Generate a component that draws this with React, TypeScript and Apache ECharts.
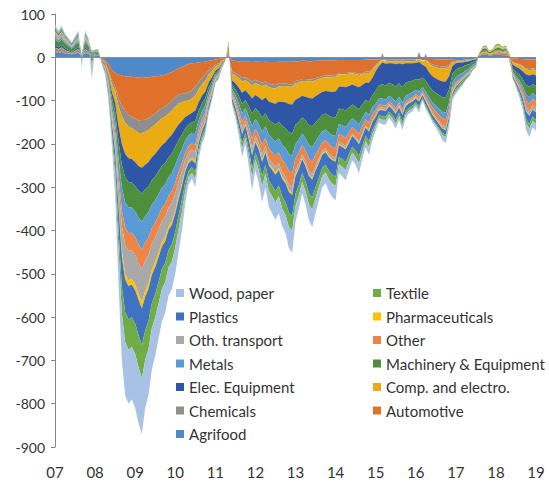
import React, { useEffect, useRef } from "react";
import * as echarts from "echarts";

// Monthly values, Jan 2007 .. Jan 2019 (145 points), one row per year
const agrifood = [
  12,10,12,9,8,7,9,10,3,10,8,5,
  5,4,-2,-6,-15,-28,-37,-40,-42,-44,-45,-45,
  -46,-46,-45,-46,-46,-45,-44,-43,-42,-40,-37,-34,
  -30,-26,-22,-19,-15,-14,-13,-12,-11,-10,-8,-7,
  -5,-4,-2,-1,3,-8,-8,-9,-10,-10,-10,-11,
  -10,-10,-11,-10,-11,-11,-11,-10,-10,-10,-10,-10,
  -9,-9,-8,-8,-9,-9,-8,-8,-7,-7,-7,-7,
  -7,-6,-6,-6,-6,-6,-6,-6,-6,-5,-5,-5,
  -5,-5,-5,-5,-5,-5,-5,-5,-5,-5,-5,-5,
  -4,-4,-4,-4,-4,-4,-5,-5,-5,-5,-5,-5,
  -6,-6,-6,-5,-5,-4,-3,3,6,7,4,5,
  6,6,5,5,3,-3,-3,-4,-4,-5,-5,-5,
  -5];
const automotive = [
  3,2,3,2,1,1,1,2,0,2,1,0,
  0,0,-3,-5,-15,-25,-30,-55,-70,-80,-88,-92,
  -96,-100,-100,-98,-95,-90,-86,-80,-75,-73,-70,-66,
  -62,-60,-62,-64,-65,-62,-55,-45,-36,-30,-22,-17,
  -12,-10,-5,-2,2,-25,-28,-32,-38,-36,-40,-45,
  -42,-45,-48,-46,-50,-52,-53,-50,-50,-50,-52,-52,
  -46,-44,-42,-42,-42,-42,-40,-38,-36,-35,-35,-35,
  -34,-30,-30,-30,-29,-28,-30,-32,-30,-28,-28,-22,
  -12,-5,-1,-2,-1,-1,-2,-1,-2,-1,-1,-1,
  -1,-1,-2,-3,-8,-12,-14,-15,-16,-16,-12,-4,
  -2,-1,-1,-1,0,0,0,1,3,3,2,2,
  3,4,3,4,1,-8,-10,-12,-15,-20,-22,-20,
  -22];
const chemicals = [
  7,6,7,5,4,3,4,6,1,6,4,2,
  2,2,-1,-1,-4,-8,-10,-17,-24,-27,-27,-27,
  -27,-29,-30,-28,-27,-26,-25,-25,-24,-24,-23,-23,
  -22,-21,-20,-18,-20,-19,-20,-17,-15,-14,-10,-8,
  -5,-4,-2,-1,8,-5,-6,-7,-8,-7,-8,-9,
  -8,-8,-8,-7,-8,-8,-8,-7,-6,-6,-6,-6,
  -5,-5,-5,-5,-5,-5,-5,-4,-4,-4,-4,-4,
  -4,-3,-3,-3,-3,-3,-3,-3,-3,-3,-3,-3,
  -3,-3,10,-3,-3,-3,-3,-3,-3,-3,-3,-3,
  -3,12,-3,8,-3,-4,-4,-5,-5,-5,-4,-3,
  -2,-2,-2,-2,-2,-1,-1,1,1,1,1,1,
  2,2,2,2,1,-1,-2,-2,-3,-3,-3,-3,
  -3];
const compElectro = [
  1,1,1,1,1,0,1,1,0,1,1,0,
  0,0,-1,-3,-8,-18,-28,-46,-64,-72,-73,-71,
  -73,-76,-80,-76,-74,-70,-68,-65,-62,-60,-57,-56,
  -53,-48,-43,-37,-33,-33,-35,-30,-27,-25,-18,-14,
  -9,-8,-4,-1,6,-15,-18,-22,-26,-23,-27,-30,
  -27,-29,-32,-30,-33,-34,-35,-35,-37,-38,-40,-41,
  -38,-36,-34,-36,-38,-39,-37,-35,-33,-32,-33,-34,
  -34,-29,-29,-30,-28,-26,-27,-28,-25,-22,-23,-18,
  -12,-7,-6,-5,-5,-5,-6,-5,-6,-5,-5,-5,
  -5,-6,-8,-15,-20,-24,-26,-28,-30,-30,-22,-8,
  -4,-3,-3,-2,-2,-1,-1,1,3,3,2,3,
  4,4,3,4,2,-5,-7,-8,-10,-12,-12,-11,
  -12];
const elecEquipment = [
  5,4,5,4,3,2,3,4,0,4,3,1,
  1,1,-1,-2,-5,-12,-21,-35,-48,-54,-55,-54,
  -55,-57,-60,-57,-56,-53,-52,-50,-48,-47,-44,-43,
  -40,-36,-32,-26,-22,-22,-24,-20,-17,-15,-11,-8,
  -5,-4,-2,-1,2,-10,-14,-19,-25,-22,-28,-35,
  -30,-34,-40,-36,-42,-45,-48,-47,-55,-60,-65,-67,
  -58,-55,-50,-55,-62,-65,-60,-57,-53,-52,-56,-58,
  -60,-50,-52,-54,-50,-46,-48,-51,-45,-40,-44,-40,
  -45,-45,-50,-50,-45,-48,-52,-46,-53,-45,-42,-40,
  -37,-40,-30,-32,-32,-32,-33,-34,-36,-37,-30,-18,
  -14,-12,-10,-8,-7,-5,-4,0,1,1,0,0,
  1,1,1,1,0,-8,-11,-14,-18,-24,-26,-23,
  -24];
const machinery = [
  14,12,13,11,9,7,10,12,1,12,9,3,
  4,4,-2,-3,-7,-15,-23,-38,-52,-58,-59,-58,
  -59,-62,-65,-62,-60,-56,-55,-53,-50,-49,-46,-45,
  -42,-38,-33,-28,-25,-25,-28,-22,-19,-17,-12,-9,
  -5,-4,-2,-1,5,-10,-13,-17,-22,-19,-24,-30,
  -25,-28,-33,-30,-35,-37,-40,-38,-44,-46,-50,-52,
  -44,-41,-37,-41,-46,-48,-44,-41,-38,-37,-40,-42,
  -43,-36,-37,-38,-35,-32,-33,-35,-31,-28,-30,-27,
  -30,-30,-33,-33,-30,-32,-35,-31,-36,-30,-28,-27,
  -25,-28,-22,-25,-26,-28,-30,-32,-34,-35,-30,-20,
  -18,-16,-14,-12,-10,-7,-5,2,5,6,3,4,
  5,5,4,4,1,-7,-10,-13,-16,-22,-24,-21,
  -22];
const metals = [
  6,5,6,4,4,3,4,5,0,5,4,1,
  2,2,-1,-3,-7,-15,-23,-38,-52,-58,-59,-58,
  -59,-62,-65,-60,-58,-54,-52,-50,-47,-46,-43,-42,
  -40,-36,-32,-28,-25,-24,-27,-20,-17,-16,-12,-9,
  -5,-4,-2,0,2,-8,-11,-15,-20,-17,-22,-28,
  -23,-26,-30,-27,-31,-32,-33,-32,-35,-36,-39,-40,
  -33,-30,-26,-29,-32,-34,-31,-28,-25,-24,-26,-27,
  -28,-23,-24,-25,-22,-20,-21,-22,-19,-17,-18,-16,
  -15,-14,-15,-14,-13,-14,-15,-13,-15,-13,-12,-11,
  -10,-12,-9,-11,-11,-12,-13,-14,-15,-16,-14,-12,
  -12,-11,-10,-8,-7,-5,-4,0,1,1,0,1,
  1,1,1,1,0,-4,-6,-8,-10,-14,-15,-13,
  -14];
const other = [
  3,2,3,2,2,1,2,2,0,2,2,0,
  0,1,-1,-2,-5,-10,-15,-26,-36,-40,-41,-40,
  -41,-43,-45,-42,-40,-36,-34,-32,-30,-29,-27,-27,
  -25,-22,-19,-16,-14,-14,-16,-12,-10,-9,-7,-5,
  -3,-3,-1,0,2,-6,-8,-11,-14,-12,-15,-20,
  -16,-18,-22,-19,-23,-24,-26,-25,-28,-29,-32,-33,
  -27,-25,-22,-24,-27,-28,-25,-23,-20,-19,-21,-22,
  -22,-18,-18,-19,-17,-15,-16,-18,-16,-14,-16,-14,
  -10,-7,-6,-6,-5,-6,-7,-6,-7,-5,-5,-5,
  -5,-6,-5,-7,-9,-11,-13,-14,-16,-17,-14,-8,
  -5,-4,-3,-3,-2,-1,-1,0,1,1,1,1,
  1,1,1,1,-8,-3,-5,-7,-10,-15,-17,-15,
  -15];
const othTransport = [
  7,6,7,5,4,3,4,6,0,6,4,2,
  2,2,-1,-3,-7,-16,-26,-43,-60,-67,-68,-67,
  -68,-71,-75,-70,-66,-60,-57,-53,-49,-47,-43,-42,
  -39,-34,-29,-23,-20,-19,-22,-16,-14,-13,-9,-7,
  -4,-3,-2,-1,4,-5,-7,-9,-11,-9,-12,-14,
  -11,-12,-13,-11,-12,-12,-12,-11,-11,-11,-12,-12,
  -10,-9,-8,-8,-9,-9,-8,-7,-6,-6,-6,-6,
  -6,-5,-5,-5,-5,-4,-4,-4,-4,-3,-3,-3,
  -4,-4,-4,-4,-4,-4,-4,-4,-4,-4,-3,-3,
  -3,-3,-2,-3,-3,-4,-4,-5,-5,-5,-4,-3,
  -3,-3,-2,-2,-2,-1,-1,0,1,1,0,0,
  1,1,1,1,0,-2,-3,-4,-5,-8,-9,-8,
  -8];
const pharmaceuticals = [
  3,2,2,2,1,1,1,2,0,2,1,0,
  0,0,0,-1,-2,-4,-5,-9,-12,-13,-13,-13,
  -14,-14,-15,-14,-13,-12,-12,-11,-10,-10,-9,-9,
  -8,-7,-6,-5,-5,-5,-5,-4,-4,-3,-2,-2,
  -1,-1,-1,0,2,-2,-3,-3,-4,-3,-4,-5,
  -4,-4,-5,-4,-5,-5,-5,-5,-5,-5,-5,-5,
  -4,-4,-3,-4,-4,-4,-4,-3,-3,-3,-3,-3,
  -3,-3,-3,-3,-3,-2,-2,-2,-2,-2,-2,-2,
  -2,-2,-2,-2,-2,-2,-2,-2,-2,-2,-2,-2,
  -2,-2,-2,-2,-2,-2,-2,-3,-3,-3,-2,-2,
  -2,-2,-1,-1,-1,-1,0,1,1,1,1,1,
  2,2,1,2,1,-1,-1,-1,-2,-2,-2,-2,
  -2];
const plastics = [
  4,3,4,3,2,2,3,3,0,3,2,1,
  1,1,-1,-4,-9,-18,-29,-49,-68,-76,-77,-76,
  -77,-81,-85,-78,-74,-66,-62,-57,-52,-50,-46,-45,
  -42,-37,-31,-24,-18,-17,-20,-14,-12,-11,-8,-6,
  -3,-2,-1,0,1,-8,-11,-15,-20,-17,-22,-30,
  -24,-27,-32,-28,-34,-36,-38,-36,-40,-43,-47,-49,
  -41,-37,-32,-35,-39,-41,-38,-34,-30,-29,-31,-33,
  -34,-27,-28,-29,-26,-24,-25,-27,-23,-20,-22,-18,
  -14,-12,-14,-13,-12,-13,-14,-12,-15,-12,-11,-10,
  -9,-11,-7,-9,-9,-9,-9,-9,-10,-10,-9,-6,
  -5,-4,-3,-2,-2,-1,-1,0,0,1,0,0,
  1,1,0,0,0,-4,-5,-8,-11,-17,-19,-16,
  -17];
const textile = [
  5,4,5,4,3,3,3,4,-10,4,3,-20,
  1,1,-1,-3,-7,-14,-27,-45,-62,-69,-70,-68,
  -70,-74,-77,-68,-64,-57,-54,-50,-46,-44,-40,-39,
  -37,-32,-27,-20,-14,-13,-16,-11,-9,-8,-6,-4,
  -2,-2,-1,0,2,-4,-6,-9,-13,-11,-15,-20,
  -16,-19,-24,-21,-24,-25,-26,-25,-28,-30,-33,-34,
  -28,-25,-21,-23,-26,-28,-25,-22,-19,-18,-20,-21,
  -22,-17,-18,-18,-16,-14,-15,-17,-14,-12,-14,-11,
  -8,-7,-8,-8,-7,-8,-9,-8,-9,-7,-6,-6,
  -5,-7,-3,-5,-4,-4,-4,-4,-5,-5,-4,-5,
  -6,-6,-6,-5,-4,-3,-2,1,2,2,1,2,
  3,3,2,2,1,-2,-3,-5,-7,-10,-11,-10,
  -10];
const woodPaper = [
  5,5,4,3,3,2,3,5,-15,5,3,-30,
  0,0,-1,-4,-9,-17,-46,-79,-110,-122,-125,-121,
  -125,-130,-128,-111,-107,-95,-89,-81,-75,-71,-65,-64,
  -60,-53,-44,-28,-18,-13,-19,-12,-9,-9,-5,-4,
  -1,-1,0,0,1,-4,-7,-12,-19,-14,-23,-30,
  -24,-30,-37,-31,-38,-39,-41,-39,-41,-42,-49,-51,
  -37,-30,-26,-30,-37,-40,-35,-30,-26,-25,-28,-31,
  -33,-21,-22,-24,-20,-18,-19,-23,-17,-14,-17,-13,
  -10,-9,-11,-10,-8,-9,-11,-9,-11,-8,-7,-7,
  -6,-8,-3,-4,-4,-4,-5,-8,-12,-14,-10,-6,
  -5,-5,-4,-2,-1,0,0,0,0,0,0,0,
  0,1,1,1,0,-2,-4,-6,-9,-16,-19,-15,
  -16];

const seriesNames = [
  "Agrifood", "Automotive", "Chemicals", "Comp. and electro.", "Elec. Equipment",
  "Machinery & Equipment", "Metals", "Other", "Oth. transport", "Pharmaceuticals",
  "Plastics", "Textile", "Wood, paper",
];
const seriesValues = [
  agrifood, automotive, chemicals, compElectro, elecEquipment, machinery, metals,
  other, othTransport, pharmaceuticals, plastics, textile, woodPaper,
];
const seriesColors = [
  "#5089C8", "#E0712C", "#8F8F8F", "#EAAC12", "#2F55A6", "#4E8F3D", "#5B9BD5",
  "#EE8547", "#A9A9A9", "#FFC000", "#3F72C2", "#70AD47", "#A8C2E6",
];
const legendCol1 = ["Wood, paper", "Plastics", "Oth. transport", "Metals", "Elec. Equipment", "Chemicals", "Agrifood"];
const legendCol2 = ["Textile", "Pharmaceuticals", "Other", "Machinery & Equipment", "Comp. and electro.", "Automotive"];
const startYear = 2007;
const monthCount = 145;
const yTicks = { min: -900, max: 100, interval: 100 };

const FONT = "Lato, 'Open Sans', sans-serif";

export default function App() {
  const ref = useRef<HTMLDivElement>(null);
  useEffect(() => {
    if (!ref.current) return;
    const chart = echarts.init(ref.current, undefined, { renderer: "svg" });
    const months: string[] = [];
    for (let i = 0; i < monthCount; i++) {
      const y = startYear + Math.floor(i / 12);
      const m = (i % 12) + 1;
      months.push(`${y}-${m < 10 ? "0" + m : m}`);
    }
    const series: any[] = seriesNames.map((name, i) => ({
      name,
      type: "line",
      stack: "total",
      data: seriesValues[i],
      showSymbol: false,
      symbol: "none",
      smooth: false,
      lineStyle: { width: 0, color: seriesColors[i] },
      itemStyle: { color: seriesColors[i] },
      areaStyle: { color: seriesColors[i], opacity: 1 },
      emphasis: { disabled: true },
      silent: true,
      z: 2,
    }));
    series[series.length - 1].markLine = {
      silent: true,
      symbol: "none",
      label: { show: false },
      lineStyle: { color: "#8C8C8C", width: 1, type: "solid" },
      data: [{ yAxis: 0 }],
      animation: false,
    };
    const legendBase = {
      orient: "vertical",
      top: 285,
      padding: 0,
      itemWidth: 8,
      itemHeight: 8,
      itemGap: 7.5,
      icon: "rect",
      selectedMode: false,
      textStyle: { fontFamily: FONT, fontSize: 15, color: "#333333", lineHeight: 16 },
    };
    chart.setOption({
      animation: false,
      backgroundColor: "#ffffff",
      grid: { left: 55, right: 13, top: 14, bottom: 38, containLabel: false },
      legend: [
        { ...legendBase, left: 176, data: legendCol1 },
        { ...legendBase, left: 373, data: legendCol2 },
      ],
      xAxis: {
        type: "category",
        data: months,
        boundaryGap: false,
        axisLine: { show: false, onZero: false },
        axisTick: { show: false },
        splitLine: { show: false },
        axisLabel: {
          interval: (index: number) => index % 12 === 0,
          formatter: (v: string) => v.slice(2, 4),
          fontFamily: FONT,
          fontSize: 15,
          color: "#333333",
          margin: 17,
        },
      },
      yAxis: {
        type: "value",
        min: yTicks.min,
        max: yTicks.max,
        interval: yTicks.interval,
        axisLine: { show: true, lineStyle: { color: "#868686" } },
        axisTick: { show: true, length: 4, lineStyle: { color: "#868686" } },
        splitLine: { show: false },
        axisLabel: { fontFamily: FONT, fontSize: 14, color: "#333333", margin: 10 },
      },
      series,
    });
    return () => chart.dispose();
  }, []);
  return (
    <div
      ref={ref}
      style={{ position: "fixed", left: 0, top: 0, width: 549, height: 485, background: "#fff" }}
    />
  );
}
